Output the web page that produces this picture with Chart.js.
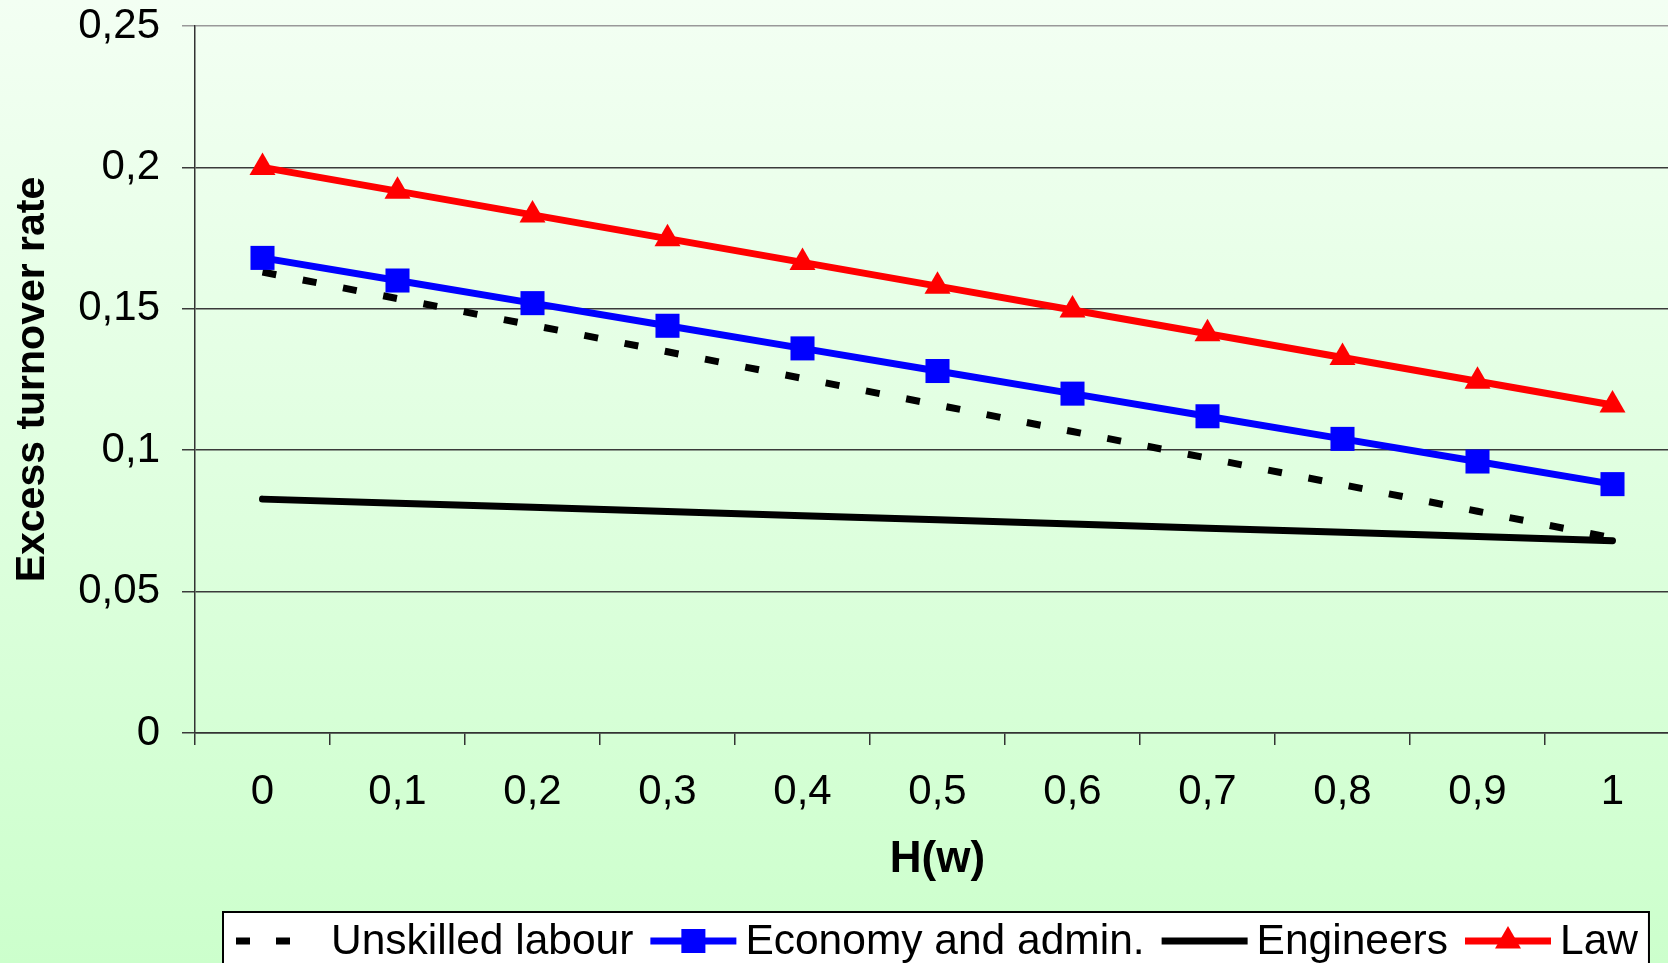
<!DOCTYPE html>
<html>
<head>
<meta charset="utf-8">
<script src="https://cdn.jsdelivr.net/npm/chart.js@4.4.1/dist/chart.umd.min.js"></script>
<style>
  html, body { margin: 0; padding: 0; overflow: hidden; background: #ccffcc; }
  #wrap { position: absolute; left: 0; top: 0; }
</style>
</head>
<body>
<div id="wrap"><canvas id="turnoverChart" width="1700" height="990"></canvas></div>
<script>
// H(w) categories and the excess turnover rate per group
const hLabels   = ['0', '0,1', '0,2', '0,3', '0,4', '0,5', '0,6', '0,7', '0,8', '0,9', '1'];
const unskilled = [0.1630, 0.1536, 0.1442, 0.1348, 0.1254, 0.1160, 0.1066, 0.0972, 0.0878, 0.0784, 0.0690];
const economy   = [0.1680, 0.1600, 0.1520, 0.1440, 0.1360, 0.1280, 0.1200, 0.1120, 0.1040, 0.0960, 0.0880];
const engineers = [0.0827, 0.0812, 0.0798, 0.0783, 0.0768, 0.0754, 0.0739, 0.0724, 0.0710, 0.0695, 0.0680];
const law       = [0.2000, 0.1916, 0.1832, 0.1748, 0.1664, 0.1580, 0.1496, 0.1412, 0.1328, 0.1244, 0.1160];

Chart.defaults.font.family = '"Liberation Sans", Arial, sans-serif';
Chart.defaults.color = '#000';

// green fade behind everything
const fondo = {
  id: 'fondo',
  beforeDraw(chart) {
    const { ctx, width, height } = chart;
    const g = ctx.createLinearGradient(0, 0, 0, 963);
    g.addColorStop(0, '#f3fff3');
    g.addColorStop(1, '#ccffcc');
    ctx.save();
    ctx.fillStyle = g;
    ctx.fillRect(0, 0, width, height);
    ctx.restore();
  }
};

// boxed legend along the bottom: line sample + marker + label
const leyenda = {
  id: 'leyenda',
  afterDraw(chart) {
    const { ctx } = chart;
    const y = 941;
    const sampleLen = 86;
    ctx.save();
    ctx.font = '42.5px "Liberation Sans", Arial, sans-serif';
    let x = 236;
    const items = chart.data.datasets.map(ds => {
      const w = ctx.measureText(ds.label).width;
      const it = { ds, x, tx: x + sampleLen + 9, w };
      x = it.tx + w + 17;
      return it;
    });
    const right = x - 17 + 11;
    ctx.fillStyle = '#fff';
    ctx.fillRect(223, 912, right - 223, 70);
    ctx.strokeStyle = '#000';
    ctx.lineWidth = 2;
    ctx.strokeRect(223, 912, right - 223, 70);

    items.forEach(({ ds, x, tx }) => {
      const dashed = !!ds.borderDash;
      ctx.strokeStyle = ds.borderColor;
      ctx.lineWidth = 7;
      ctx.setLineDash(dashed ? [14, 26] : []);
      ctx.beginPath();
      ctx.moveTo(x, y);
      ctx.lineTo(x + (dashed ? 56 : sampleLen), y);
      ctx.stroke();
      ctx.setLineDash([]);
      if (ds.pointRadius > 0) {
        ctx.fillStyle = ds.pointBackgroundColor;
        Chart.helpers.drawPoint(ctx, {
          pointStyle: ds.pointStyle, radius: ds.pointRadius, borderWidth: 0, rotation: 0
        }, x + sampleLen / 2, y);
      }
      ctx.fillStyle = '#000';
      ctx.textBaseline = 'middle';
      ctx.textAlign = 'left';
      ctx.fillText(ds.label, tx, y + 1);
    });
    ctx.restore();
  }
};

new Chart(document.getElementById('turnoverChart'), {
  type: 'line',
  data: {
    labels: hLabels,
    datasets: [
      {
        label: 'Unskilled labour',
        data: unskilled,
        borderColor: '#000',
        borderWidth: 7,
        borderDash: [14, 27],
        borderCapStyle: 'butt',
        pointRadius: 0,
        order: 2
      },
      {
        label: 'Economy and admin.',
        data: economy,
        borderColor: '#0000ff',
        borderWidth: 7,
        pointStyle: 'rect',
        pointRadius: 17,
        pointBackgroundColor: '#0000ff',
        pointBorderWidth: 0,
        order: 1
      },
      {
        label: 'Engineers',
        data: engineers,
        borderColor: '#000',
        borderWidth: 7,
        borderCapStyle: 'round',
        pointRadius: 0,
        order: 3
      },
      {
        label: 'Law',
        data: law,
        borderColor: '#ff0000',
        borderWidth: 7,
        pointStyle: 'triangle',
        pointRadius: 15,
        pointBackgroundColor: '#ff0000',
        pointBorderWidth: 0,
        order: 0
      }
    ]
  },
  options: {
    responsive: false,
    animation: false,
    layout: { padding: { left: 0, top: 26, right: 20, bottom: 97 } },
    plugins: {
      legend: { display: false },
      tooltip: { enabled: false }
    },
    elements: { line: { tension: 0 } },
    scales: {
      x: {
        offset: true,
        grid: { offset: true, drawOnChartArea: false, tickLength: 12, color: '#333', lineWidth: 1.5 },
        border: { color: '#333', width: 1.5 },
        ticks: { padding: 22, font: { size: 42 }, color: '#000' },
        title: {
          display: true,
          text: 'H(w)',
          font: { size: 44, weight: 'bold', lineHeight: 1 },
          padding: { top: 0, bottom: 11 },
          color: '#000'
        },
        afterFit(scale) { scale.height = 160; }
      },
      y: {
        min: 0,
        max: 0.25,
        ticks: {
          stepSize: 0.05,
          padding: 22,
          font: { size: 42 },
          color: '#000',
          callback: v => String(Math.round(v * 100) / 100).replace('.', ',')
        },
        grid: {
          tickLength: 13,
          lineWidth: 1.5,
          color: c => (c.tick && c.tick.value === 0.25 ? '#999' : '#3a3a3a')
        },
        border: { color: '#333', width: 1.5 },
        title: {
          display: true,
          text: 'Excess turnover rate',
          font: { size: 41, weight: 'bold', lineHeight: 1 },
          padding: { top: 12, bottom: 0 },
          color: '#000'
        },
        afterFit(scale) {
          scale.width = 195;
          // the top label may hang over the plot edge
          scale.paddingTop = 0;
          scale.paddingBottom = 0;
        }
      }
    }
  },
  plugins: [fondo, leyenda]
});
</script>
</body>
</html>
